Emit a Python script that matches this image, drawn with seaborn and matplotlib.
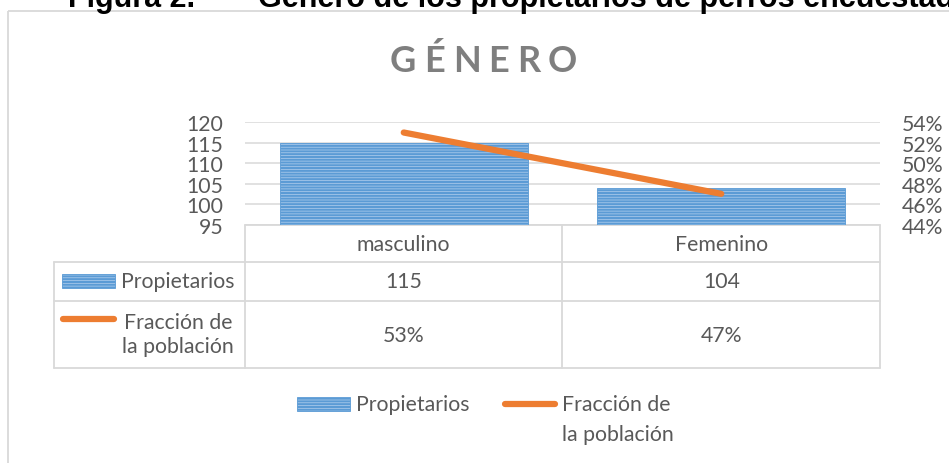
import pandas as pd
import seaborn as sns
import matplotlib.pyplot as plt
from matplotlib.patches import Rectangle
from matplotlib.ticker import PercentFormatter
from matplotlib.transforms import blended_transform_factory

# datos
categorias = ['masculino', 'Femenino']
propietarios = [115, 104]
fraccion = [0.53, 0.47]
ticks_izq = [95, 100, 105, 110, 115, 120]
ticks_der = [0.44, 0.46, 0.48, 0.50, 0.52, 0.54]
serie_barras = 'Propietarios'
serie_linea = 'Fracción de\nla población'

AZUL = '#5B9BD5'
AZUL_CLARO = '#B4D0EE'
NARANJA = '#ED7D31'
GRIS_TXT = '#595959'
GRIS_LIN = '#D9D9D9'
TAM = 15.3

sns.set_style('white')
plt.rcParams['font.family'] = ['Lato', 'DejaVu Sans']
plt.rcParams['hatch.linewidth'] = 1.5

W, H = 949, 464
fig = plt.figure(figsize=(W / 100, H / 100), dpi=100)

# capa de fondo en pixeles (y hacia abajo)
bg = fig.add_axes([0, 0, 1, 1], zorder=0)
bg.set_xlim(0, W)
bg.set_ylim(H, 0)
bg.axis('off')

ax = fig.add_axes([245 / W, (H - 225.5) / H, 635 / W, 102.2 / H], zorder=2)
ax.patch.set_alpha(0)

df = pd.DataFrame({'genero': categorias, 'propietarios': propietarios, 'fraccion': fraccion})

# --- barras ---
sns.barplot(data=df, x='genero', y='propietarios', color=AZUL_CLARO, saturation=1,
            width=0.78, ax=ax)
for p in ax.patches:
    p.set_hatch('------')
    p.set_edgecolor(AZUL)
    p.set_linewidth(0.6)

ax.set_ylim(95, 120)
ax.set_yticks(ticks_izq)
ax.yaxis.grid(True, color=GRIS_LIN, linewidth=1.1)
ax.set_axisbelow(True)
ax.set_xlabel('')
ax.set_ylabel('')
ax.tick_params(axis='y', length=0, labelsize=TAM, labelcolor=GRIS_TXT, pad=15.5)
ax.tick_params(axis='x', length=0, labelbottom=False)
sns.despine(ax=ax, left=True, bottom=True)

# --- linea en eje secundario ---
ax2 = ax.twinx()
sns.lineplot(data=df, x='genero', y='fraccion', color=NARANJA, linewidth=4.5,
             sort=False, ax=ax2, solid_capstyle='round')
ax2.set_ylim(0.44, 0.54)
ax2.set_yticks(ticks_der)
ax2.yaxis.set_major_formatter(PercentFormatter(1.0, decimals=0))
ax2.set_ylabel('')
ax2.tick_params(axis='y', length=0, labelsize=TAM, labelcolor=GRIS_TXT, pad=15.5)
for s in ax2.spines.values():
    s.set_visible(False)
ax.set_xlim(-0.5, len(categorias) - 0.5)

# --- tabla de datos ---
tr = blended_transform_factory(ax.transData, bg.transData)
fig.canvas.draw()
x_izq = 54
y_filas = [225.5, 262.7, 301.7, 369]
lw_t = 1.3
bg.plot([-0.5, len(categorias) - 0.5], [y_filas[0]] * 2, transform=tr, color=GRIS_LIN, lw=lw_t)
for yf in y_filas[1:]:
    x_fin = ax.transData.transform((len(categorias) - 0.5, 0))[0]
    bg.plot([x_izq, x_fin], [yf, yf], color=GRIS_LIN, lw=lw_t)
bg.plot([x_izq, x_izq], [y_filas[1], y_filas[3]], color=GRIS_LIN, lw=lw_t)
for xi in range(len(categorias) + 1):
    bg.plot([xi - 0.5, xi - 0.5], [y_filas[0], y_filas[3]], transform=tr, color=GRIS_LIN, lw=lw_t)

for i, cat in enumerate(categorias):
    bg.text(i, 245, cat, transform=tr, ha='center', va='center', fontsize=TAM, color=GRIS_TXT)
    bg.text(i, 282, f'{propietarios[i]}', transform=tr, ha='center', va='center',
            fontsize=TAM, color=GRIS_TXT)
    bg.text(i, 336, f'{fraccion[i]:.0%}', transform=tr, ha='center', va='center',
            fontsize=TAM, color=GRIS_TXT)


def clave_barra(x, y):
    bg.add_patch(Rectangle((x, y), 53, 14, facecolor=AZUL_CLARO, edgecolor=AZUL,
                           hatch='------', lw=0.6))


def clave_linea(x0, x1, y):
    bg.plot([x0, x1], [y, y], color=NARANJA, lw=4.5, solid_capstyle='round')


clave_barra(62, 275)
bg.text(178, 282, serie_barras, ha='center', va='center', fontsize=TAM, color=GRIS_TXT)
clave_linea(63, 114, 320)
bg.text(178, 335, serie_linea, ha='center', va='center', fontsize=TAM, color=GRIS_TXT,
        multialignment='center', linespacing=1.3)

# --- leyenda inferior ---
clave_barra(297, 398)
bg.text(356, 405, serie_barras, ha='left', va='center', fontsize=TAM, color=GRIS_TXT)
clave_linea(505, 555, 405)
lin1, lin2 = serie_linea.split('\n')
bg.text(562, 405, lin1, ha='left', va='center', fontsize=TAM, color=GRIS_TXT)
bg.text(562, 435, lin2, ha='left', va='center', fontsize=TAM, color=GRIS_TXT)

# --- marco y titulos ---
bg.add_patch(Rectangle((8, 12), 1200, 600, fill=False, edgecolor=GRIS_LIN, lw=1.3))

# titulo con letras espaciadas (ancho total ~187 px)
titulo = 'GÉNERO'
rend = fig.canvas.get_renderer()
letras = [bg.text(0, 61, c, ha='left', va='center', fontsize=26, fontweight='bold',
                  color='#7F7F7F') for c in titulo]
anchos = [t.get_window_extent(rend).width for t in letras]
hueco = (187 - sum(anchos)) / (len(titulo) - 1)
x_t = 390
for t, a in zip(letras, anchos):
    t.set_x(x_t)
    x_t += a + hueco

bg.text(68, 7, 'Figura 2.', ha='left', va='baseline', fontsize=22, fontweight='bold',
        family=['Liberation Sans'], color='black')
bg.text(258, 7, 'Género de los propietarios de perros encuestados', ha='left', va='baseline',
        fontsize=22, fontweight='bold', family=['Liberation Sans'], color='black')

fig.savefig('out.png', dpi=100)
